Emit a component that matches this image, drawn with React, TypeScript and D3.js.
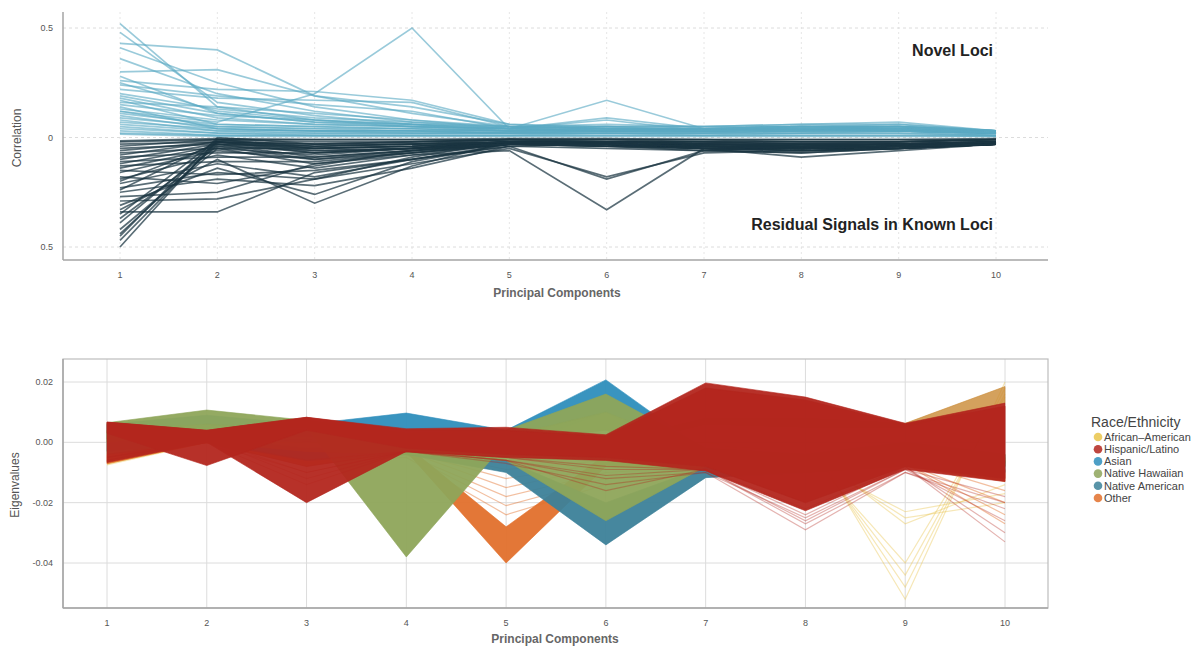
import * as d3 from 'd3';

// principal components on both x axes
const components = [1, 2, 3, 4, 5, 6, 7, 8, 9, 10];

const correlationTicks = [-0.5, 0, 0.5];
const correlationTickLabels = ['0.5', '0', '0.5'];
const eigenTicks = [-0.04, -0.02, 0, 0.02];
const eigenTickLabels = ['-0.04', '-0.02', '0.00', '0.02'];

// top panel: correlation of each locus with PC1..PC10
const novelLoci = [
    [0.52, 0.14, 0.08, 0.05, 0.04, 0.03, 0.03, 0.04, 0.03, 0.02],
    [0.48, 0.16, 0.1, 0.06, 0.03, 0.04, 0.03, 0.03, 0.04, 0.02],
    [0.43, 0.4, 0.19, 0.11, 0.05, 0.04, 0.04, 0.05, 0.04, 0.03],
    [0.41, 0.25, 0.14, 0.08, 0.04, 0.03, 0.04, 0.04, 0.03, 0.02],
    [0.36, 0.2, 0.12, 0.07, 0.05, 0.05, 0.03, 0.04, 0.04, 0.02],
    [0.3, 0.31, 0.19, 0.14, 0.06, 0.05, 0.05, 0.05, 0.05, 0.03],
    [0.28, 0.11, 0.07, 0.05, 0.03, 0.03, 0.03, 0.04, 0.03, 0.02],
    [0.26, 0.22, 0.21, 0.17, 0.06, 0.04, 0.04, 0.05, 0.05, 0.03],
    [0.24, 0.19, 0.15, 0.12, 0.04, 0.09, 0.04, 0.04, 0.05, 0.03],
    [0.12, 0.07, 0.2, 0.5, 0.04, 0.03, 0.03, 0.04, 0.03, 0.02],
    [0.22, 0.18, 0.17, 0.16, 0.05, 0.04, 0.04, 0.05, 0.04, 0.03],
    [0.2, 0.13, 0.09, 0.07, 0.04, 0.17, 0.04, 0.04, 0.04, 0.02],
    [0.18, 0.09, 0.06, 0.05, 0.04, 0.08, 0.03, 0.04, 0.04, 0.02],
    [0.17, 0.06, 0.05, 0.04, 0.03, 0.04, 0.03, 0.03, 0.03, 0.02],
    [0.15, 0.1, 0.08, 0.06, 0.04, 0.05, 0.04, 0.05, 0.05, 0.03],
    [0.14, 0.04, 0.03, 0.03, 0.02, 0.03, 0.02, 0.03, 0.03, 0.02],
    [0.13, 0.08, 0.06, 0.05, 0.04, 0.04, 0.04, 0.05, 0.06, 0.03],
    [0.12, 0.05, 0.04, 0.04, 0.03, 0.03, 0.03, 0.04, 0.04, 0.02],
    [0.11, 0.06, 0.05, 0.04, 0.03, 0.04, 0.03, 0.04, 0.04, 0.02],
    [0.1, 0.04, 0.03, 0.03, 0.03, 0.03, 0.03, 0.03, 0.03, 0.02],
    [0.09, 0.05, 0.04, 0.03, 0.03, 0.03, 0.04, 0.05, 0.05, 0.03],
    [0.08, 0.03, 0.03, 0.02, 0.02, 0.02, 0.02, 0.03, 0.03, 0.02],
    [0.07, 0.04, 0.03, 0.03, 0.02, 0.03, 0.03, 0.03, 0.04, 0.02],
    [0.06, 0.03, 0.02, 0.02, 0.02, 0.02, 0.02, 0.02, 0.03, 0.01],
    [0.05, 0.02, 0.02, 0.02, 0.02, 0.02, 0.02, 0.02, 0.02, 0.01],
    [0.04, 0.02, 0.01, 0.01, 0.01, 0.02, 0.01, 0.02, 0.02, 0.01],
    [0.03, 0.01, 0.01, 0.01, 0.01, 0.01, 0.01, 0.01, 0.01, 0.01],
    [0.02, 0.01, 0.01, 0.01, 0.01, 0.01, 0.01, 0.01, 0.01, 0.005],
    [0.015, 0.005, 0.005, 0.005, 0.005, 0.005, 0.005, 0.005, 0.005, 0.005],
    [0.25, 0.12, 0.08, 0.06, 0.05, 0.06, 0.05, 0.06, 0.07, 0.03],
    [0.19, 0.11, 0.07, 0.06, 0.04, 0.05, 0.05, 0.06, 0.06, 0.03],
    [0.16, 0.14, 0.11, 0.08, 0.05, 0.04, 0.04, 0.04, 0.05, 0.02],
];

const knownLoci = [
    [-0.5, -0.01, -0.05, -0.04, -0.02, -0.03, -0.04, -0.05, -0.04, -0.03],
    [-0.47, -0.02, -0.07, -0.05, -0.03, -0.03, -0.05, -0.06, -0.05, -0.03],
    [-0.44, -0.03, -0.09, -0.06, -0.02, -0.04, -0.04, -0.04, -0.04, -0.02],
    [-0.42, -0.05, -0.12, -0.08, -0.03, -0.03, -0.05, -0.05, -0.04, -0.03],
    [-0.39, -0.02, -0.06, -0.05, -0.02, -0.02, -0.03, -0.04, -0.03, -0.02],
    [-0.37, -0.04, -0.1, -0.07, -0.03, -0.04, -0.06, -0.07, -0.05, -0.03],
    [-0.34, -0.34, -0.16, -0.1, -0.03, -0.04, -0.05, -0.06, -0.05, -0.03],
    [-0.33, -0.1, -0.3, -0.13, -0.02, -0.03, -0.04, -0.05, -0.04, -0.03],
    [-0.31, -0.14, -0.26, -0.11, -0.03, -0.04, -0.05, -0.09, -0.06, -0.03],
    [-0.29, -0.28, -0.19, -0.09, -0.02, -0.03, -0.04, -0.04, -0.04, -0.02],
    [-0.27, -0.25, -0.12, -0.07, -0.03, -0.03, -0.05, -0.05, -0.05, -0.03],
    [-0.25, -0.19, -0.22, -0.14, -0.04, -0.03, -0.04, -0.05, -0.04, -0.03],
    [-0.23, -0.16, -0.19, -0.12, -0.05, -0.18, -0.07, -0.06, -0.05, -0.03],
    [-0.21, -0.12, -0.18, -0.1, -0.04, -0.19, -0.06, -0.05, -0.05, -0.03],
    [-0.19, -0.08, -0.14, -0.08, -0.06, -0.33, -0.05, -0.05, -0.04, -0.03],
    [-0.18, -0.21, -0.13, -0.06, -0.03, -0.04, -0.04, -0.05, -0.04, -0.03],
    [-0.16, -0.06, -0.1, -0.06, -0.03, -0.03, -0.05, -0.05, -0.04, -0.03],
    [-0.15, -0.17, -0.15, -0.1, -0.04, -0.05, -0.06, -0.07, -0.05, -0.03],
    [-0.14, -0.05, -0.08, -0.05, -0.02, -0.03, -0.03, -0.04, -0.03, -0.02],
    [-0.13, -0.11, -0.11, -0.07, -0.03, -0.04, -0.05, -0.06, -0.05, -0.03],
    [-0.12, -0.04, -0.06, -0.05, -0.02, -0.03, -0.03, -0.04, -0.03, -0.02],
    [-0.11, -0.09, -0.09, -0.06, -0.03, -0.03, -0.04, -0.05, -0.04, -0.03],
    [-0.1, -0.03, -0.05, -0.04, -0.02, -0.02, -0.03, -0.03, -0.03, -0.02],
    [-0.09, -0.07, -0.07, -0.05, -0.03, -0.03, -0.04, -0.04, -0.04, -0.02],
    [-0.08, -0.02, -0.04, -0.03, -0.02, -0.02, -0.02, -0.03, -0.03, -0.02],
    [-0.07, -0.05, -0.05, -0.04, -0.02, -0.02, -0.03, -0.03, -0.03, -0.02],
    [-0.06, -0.02, -0.03, -0.03, -0.01, -0.02, -0.02, -0.03, -0.02, -0.01],
    [-0.05, -0.03, -0.04, -0.03, -0.02, -0.02, -0.02, -0.02, -0.02, -0.01],
    [-0.04, -0.01, -0.02, -0.02, -0.01, -0.01, -0.02, -0.02, -0.02, -0.01],
    [-0.03, -0.02, -0.03, -0.02, -0.01, -0.01, -0.01, -0.02, -0.02, -0.01],
    [-0.02, -0.01, -0.01, -0.01, -0.01, -0.01, -0.01, -0.01, -0.01, -0.01],
    [-0.015, -0.005, -0.01, -0.01, -0.005, -0.005, -0.01, -0.01, -0.01, -0.005],
    [-0.35, -0.01, -0.04, -0.03, -0.02, -0.02, -0.03, -0.04, -0.03, -0.02],
    [-0.45, 0.0, -0.03, -0.02, -0.01, -0.02, -0.03, -0.03, -0.03, -0.02],
    [-0.24, -0.02, -0.05, -0.04, -0.02, -0.03, -0.04, -0.04, -0.04, -0.02],
    [-0.2, -0.03, -0.07, -0.05, -0.03, -0.03, -0.04, -0.05, -0.04, -0.03],
];

// bottom panel: legend
const races = ['African\u2013American', 'Hispanic/Latino', 'Asian', 'Native Hawaiian', 'Native American', 'Other'];
const raceColors = ['#E9C44A', '#B3261E', '#2E8EBC', '#8EA55A', '#3C8199', '#E2702C'];

// dense bundles of samples: [lower edge, upper edge] per PC
const otherBands: [number[], number[]][] = [
    [[-0.0071, 0.0, -0.008, -0.003, -0.04, -0.008, -0.009, -0.01, -0.008, -0.013],
     [-0.004, 0.002, -0.004, -0.001, -0.028, -0.004, -0.006, -0.006, -0.005, -0.009]],
];
const otherTopBand: [number[], number[]] =
    [[0.001, 0.001, 0.002, 0.0, 0.0, -0.002, 0.006, 0.005, 0.005, 0.013],
     [0.003, 0.003, 0.004, 0.002, 0.002, 0.0, 0.008, 0.008, 0.0063, 0.0185]];
const asianBands: [number[], number[]][] = [
    [[0.0, 0.002, 0.0, 0.002, -0.002, 0.01, -0.008, -0.008, -0.004, -0.008],
     [0.006, 0.009, 0.006, 0.0097, 0.004, 0.0207, -0.003, -0.005, 0.0, -0.004]],
];
const nativeAmericanBands: [number[], number[]][] = [
    [[-0.003, 0.0, -0.006, -0.004, -0.01, -0.034, -0.0117, -0.01, -0.007, -0.01],
     [0.0, 0.002, -0.002, 0.0, -0.006, -0.02, -0.008, -0.006, -0.004, -0.006]],
];
const nativeHawaiianBands: [number[], number[]][] = [
    [[0.0, 0.004, 0.005, -0.038, 0.0, 0.004, -0.006, -0.007, -0.003, -0.007],
     [0.0065, 0.0107, 0.0073, 0.003, 0.004, 0.016, -0.002, -0.004, 0.0, -0.004]],
    [[-0.004, 0.0, -0.003, -0.004, -0.006, -0.026, -0.008, -0.008, -0.005, -0.008],
     [0.004, 0.006, 0.004, 0.0, 0.002, 0.01, -0.003, -0.005, -0.002, -0.005]],
];
const hispanicBands: [number[], number[]][] = [
    [[-0.0067, 0.0, -0.02, -0.003, -0.005, -0.006, -0.0095, -0.0227, -0.009, -0.013],
     [0.0067, 0.004, 0.0083, 0.0045, 0.005, 0.0025, 0.0197, 0.015, 0.0063, 0.013]],
    [[0.003, -0.0077, 0.004, -0.002, -0.004, -0.005, -0.008, -0.02, -0.008, -0.012],
     [0.0067, 0.004, 0.0083, 0.004, 0.004, 0.002, 0.018, 0.014, 0.006, 0.012]],
];

// sparse individual samples
const africanAmericanLines = [
    [-0.0075, 0.0, 0.002, 0.0, 0.0, 0.0, 0.004, 0.003, -0.052, 0.02],
    [-0.0072, 0.001, 0.001, -0.001, -0.001, -0.001, 0.003, 0.001, -0.048, 0.018],
    [-0.007, 0.0, 0.0, -0.001, -0.002, -0.002, 0.002, -0.001, -0.044, 0.016],
    [-0.007, 0.0, 0.0, -0.002, -0.002, -0.002, 0.0, -0.004, -0.025, -0.02],
    [-0.006, 0.001, 0.001, -0.001, -0.001, -0.001, 0.0, -0.006, -0.023, -0.017],
    [-0.006, 0.0, 0.0, -0.001, -0.002, -0.002, 0.0, -0.002, -0.027, -0.014],
    [-0.006, 0.0, 0.0, -0.002, -0.002, -0.002, -0.001, -0.003, -0.04, 0.015],
];
const otherLines = [
    [-0.004, 0.001, -0.004, -0.002, -0.006, -0.005, -0.006, -0.006, -0.005, -0.008],
    [-0.004, 0.0, -0.005, -0.002, -0.009, -0.006, -0.006, -0.007, -0.006, -0.01],
    [-0.005, 0.001, -0.005, -0.003, -0.012, -0.007, -0.007, -0.007, -0.006, -0.012],
    [-0.005, 0.0, -0.006, -0.003, -0.015, -0.008, -0.007, -0.008, -0.006, -0.016],
    [-0.006, 0.001, -0.006, -0.004, -0.018, -0.01, -0.008, -0.008, -0.007, -0.02],
    [-0.006, 0.0, -0.007, -0.004, -0.021, -0.012, -0.008, -0.009, -0.007, -0.024],
    [-0.006, 0.001, -0.007, -0.005, -0.024, -0.014, -0.009, -0.009, -0.007, -0.027],
];
const hispanicLines = [
    [-0.004, 0.0, -0.006, -0.003, -0.006, -0.011, -0.009, -0.026, -0.009, -0.018],
    [-0.005, 0.0, -0.008, -0.003, -0.007, -0.014, -0.01, -0.029, -0.01, -0.022],
    [-0.005, 0.001, -0.01, -0.003, -0.006, -0.012, -0.01, -0.025, -0.009, -0.026],
    [-0.006, 0.001, -0.012, -0.003, -0.005, -0.009, -0.009, -0.024, -0.008, -0.03],
    [-0.006, 0.0, -0.014, -0.003, -0.005, -0.008, -0.009, -0.022, -0.008, -0.033],
    [-0.005, 0.0, -0.01, -0.003, -0.006, -0.016, -0.009, -0.027, -0.01, -0.02],
];

const FONT = 'Liberation Sans, Arial, Helvetica, sans-serif';

export default function App() {
    // top panel scales
    const xTop = d3.scaleLinear().domain([1, 10]).range([120, 996]);
    const yTop = d3.scaleLinear().domain([-0.5, 0.5]).range([247, 28]);
    // bottom panel scales
    const xBot = d3.scaleLinear().domain([1, 10]).range([107, 1005]);
    const yBot = d3.scaleLinear().domain([-0.04, 0.02]).range([563, 382]);

    const topLine = d3.line<number>().x((_, i) => xTop(components[i])).y(d => yTop(d));
    const botLine = d3.line<number>().x((_, i) => xBot(components[i])).y(d => yBot(d));
    const bandPath = (b: [number[], number[]]) =>
        d3.area<number>()
            .x((_, i) => xBot(components[i]))
            .y0((_, i) => yBot(b[0][i]))
            .y1((_, i) => yBot(b[1][i]))(b[0]) || '';

    const bands = (list: [number[], number[]][], color: string, key: string, opacity = 0.95) =>
        list.map((b, i) => (
            <path key={key + i} d={bandPath(b)} fill={color} fillOpacity={opacity}
                stroke={color} strokeOpacity={0.6} strokeWidth={1} strokeLinejoin="round" />
        ));
    const sparse = (list: number[][], color: string, opacity: number, key: string) =>
        list.map((l, i) => (
            <path key={key + i} d={botLine(l) || ''} fill="none" stroke={color}
                strokeOpacity={opacity} strokeWidth={1.2} />
        ));

    const tickStyle = { font: `9px ${FONT}`, fill: '#555' };
    const titleStyle = { font: `bold 12px ${FONT}`, fill: '#666' };

    return (
        <div style={{ position: 'absolute', left: 0, top: 0 }}>
            <svg width={1196} height={647} style={{ display: 'block', background: '#fff' }}>
                {/* ---------- top panel ---------- */}
                <g>
                    {components.map(c => (
                        <line key={'tv' + c} x1={xTop(c)} x2={xTop(c)} y1={12} y2={259}
                            stroke="#e6e6e6" strokeDasharray="2,3" />
                    ))}
                    {correlationTicks.map(t => (
                        <line key={'th' + t} x1={63} x2={1048} y1={yTop(t)} y2={yTop(t)}
                            stroke="#dcdcdc" strokeDasharray="3,3" />
                    ))}
                    {knownLoci.map((l, i) => (
                        <path key={'k' + i} d={topLine(l) || ''} fill="none" stroke="#1B3541"
                            strokeOpacity={0.72} strokeWidth={1.7} />
                    ))}
                    {novelLoci.map((l, i) => (
                        <path key={'n' + i} d={topLine(l) || ''} fill="none" stroke="#5AAAC3"
                            strokeOpacity={0.62} strokeWidth={1.7} />
                    ))}
                    <line x1={63} x2={63} y1={12} y2={260} stroke="#a5a5a5" strokeWidth={1.5} />
                    <line x1={63} x2={1048} y1={260} y2={260} stroke="#a5a5a5" strokeWidth={1.5} />
                    {correlationTicks.map((t, i) => (
                        <text key={'ty' + t} x={53} y={yTop(t)} dy="0.35em" textAnchor="end" style={tickStyle}>
                            {correlationTickLabels[i]}
                        </text>
                    ))}
                    {components.map(c => (
                        <text key={'tx' + c} x={xTop(c)} y={275} dy="0.35em" textAnchor="middle" style={tickStyle}>
                            {c}
                        </text>
                    ))}
                    <text x={557} y={297} textAnchor="middle" style={titleStyle}>Principal Components</text>
                    <text transform="translate(21,138) rotate(-90)" textAnchor="middle"
                        style={{ font: `12px ${FONT}`, fill: '#555' }}>Correlation</text>
                    <text x={993} y={56} textAnchor="end" style={{ font: `bold 16px ${FONT}`, fill: '#222' }}>Novel Loci</text>
                    <text x={993} y={230} textAnchor="end" style={{ font: `bold 16px ${FONT}`, fill: '#222' }}>
                        Residual Signals in Known Loci
                    </text>
                </g>

                {/* ---------- bottom panel ---------- */}
                <g>
                    <rect x={63} y={359} width={985} height={249} fill="#fff" />
                    {components.map(c => (
                        <line key={'bv' + c} x1={xBot(c)} x2={xBot(c)} y1={359} y2={608} stroke="#dcdcdc" />
                    ))}
                    {eigenTicks.map(t => (
                        <line key={'bh' + t} x1={63} x2={1048} y1={yBot(t)} y2={yBot(t)} stroke="#dcdcdc" />
                    ))}
                    {sparse(africanAmericanLines, raceColors[0], 0.4, 'aa')}
                    {bands([otherTopBand], '#C98A35', 'otb', 0.8)}
                    {bands(otherBands, raceColors[5], 'ob')}
                    {sparse(otherLines, raceColors[5], 0.45, 'ol')}
                    {bands(asianBands, raceColors[2], 'ab')}
                    {bands(nativeAmericanBands, raceColors[4], 'nab')}
                    {bands(nativeHawaiianBands, raceColors[3], 'nhb')}
                    {sparse(hispanicLines, raceColors[1], 0.35, 'hl')}
                    {bands(hispanicBands, raceColors[1], 'hb')}
                    <rect x={63} y={359} width={985} height={249} fill="none" stroke="#bdbdbd" strokeWidth={1.2} />
                    <line x1={63} x2={1048} y1={608} y2={608} stroke="#a5a5a5" strokeWidth={1.5} />
                    <line x1={63} x2={63} y1={359} y2={608} stroke="#a5a5a5" strokeWidth={1.5} />
                    {eigenTicks.map((t, i) => (
                        <text key={'by' + t} x={53} y={yBot(t)} dy="0.35em" textAnchor="end" style={tickStyle}>
                            {eigenTickLabels[i]}
                        </text>
                    ))}
                    {components.map(c => (
                        <text key={'bx' + c} x={xBot(c)} y={623} dy="0.35em" textAnchor="middle" style={tickStyle}>
                            {c}
                        </text>
                    ))}
                    <text x={555} y={643} textAnchor="middle" style={titleStyle}>Principal Components</text>
                    <text transform="translate(19,485) rotate(-90)" textAnchor="middle"
                        style={{ font: `12px ${FONT}`, fill: '#555' }}>Eigenvalues</text>

                    {/* legend */}
                    <text x={1091} y={427} style={{ font: `14px ${FONT}`, fill: '#444' }}>Race/Ethnicity</text>
                    {races.map((r, i) => (
                        <g key={r} transform={`translate(1098, ${437 + i * 12.2})`}>
                            <circle r={4.3} fill={raceColors[i]} fillOpacity={0.85} />
                            <text x={6} dy="0.35em" style={{ font: `11px ${FONT}`, fill: '#444' }}>{r}</text>
                        </g>
                    ))}
                </g>
            </svg>
        </div>
    );
}
